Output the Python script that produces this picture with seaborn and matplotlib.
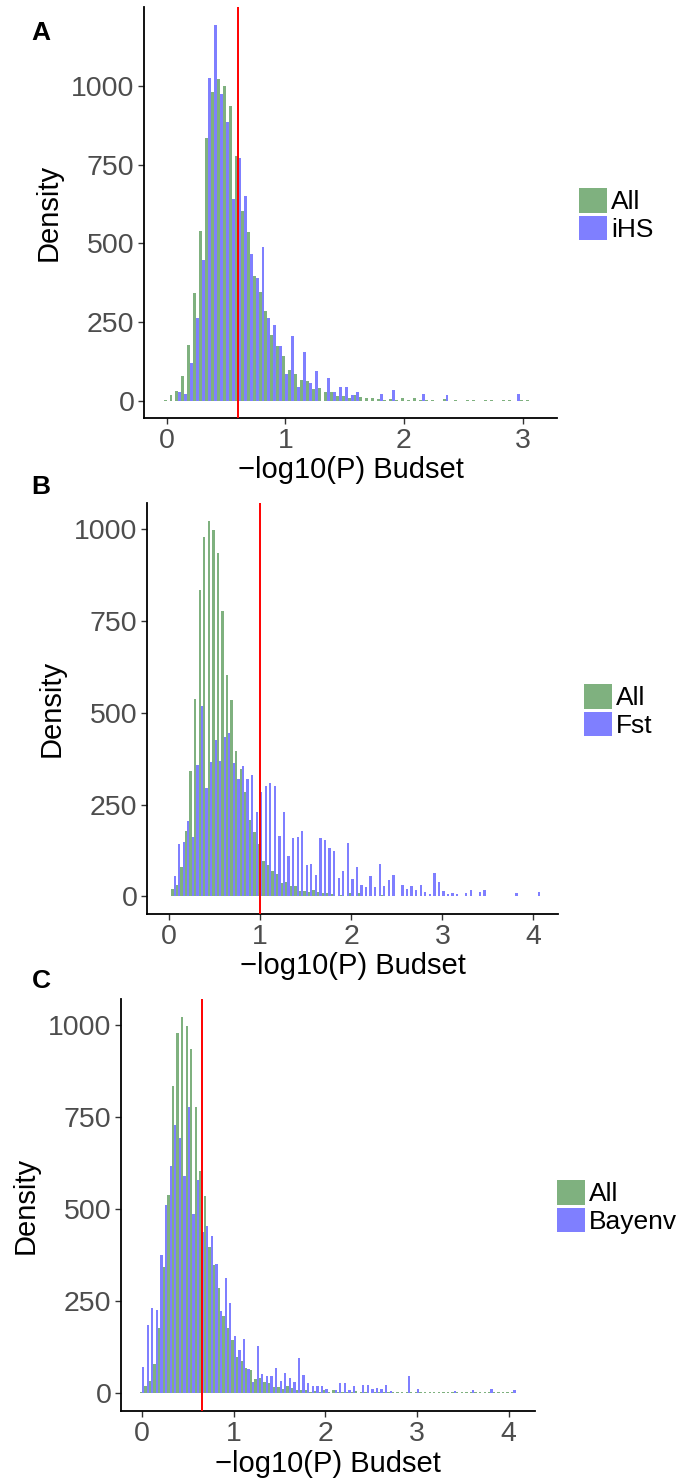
import numpy as np
import pandas as pd
import matplotlib.pyplot as plt
import seaborn as sns
from matplotlib.patches import Patch

# largura do bin (-log10 P) e densidades
bin_width = 0.05

all_density = [2, 19, 32, 79, 177, 342, 538, 834, 979, 1022,
               998, 935, 776, 604, 536, 395, 346, 285, 209, 175,
               142, 97, 86, 68, 62, 37, 40, 29, 27, 15,
               15, 11, 18, 13, 8, 8, 6, 2, 5, 2,
               8, 2, 8, 2, 2, 2, 1, 5, 1, 2,
               0, 2, 2, 1, 2, 2, 1, 2, 2, 1,
               2, 2, 1, 2, 1, 2, 2, 1, 2, 1,
               1, 2, 1, 1, 2, 1, 1, 2, 1, 1,
               1, 1]

ihs_density = [0, 0, 28, 22, 120, 263, 447, 1024, 1192, 973,
               885, 640, 771, 650, 466, 390, 488, 263, 241, 174,
               86, 206, 44, 155, 57, 95, 0, 73, 29, 44,
               44, 19, 29, 0, 0, 0, 22, 0, 35, 0,
               0, 0, 0, 22, 0, 0, 0, 19, 0, 0,
               0, 0, 0, 0, 0, 0, 0, 0, 0, 22,
               0, 0, 0]

fst_density = [0, 56, 143, 149, 206, 162, 358, 519, 296, 366,
               426, 369, 435, 445, 364, 320, 356, 320, 331, 230,
               285, 301, 309, 301, 165, 230, 111, 160, 162, 179,
               86, 89, 59, 160, 154, 132, 124, 51, 70, 146,
               48, 81, 32, 26, 56, 26, 89, 29, 45, 59,
               0, 32, 21, 29, 18, 32, 13, 7, 64, 40,
               15, 7, 10, 7, 0, 10, 18, 0, 13, 18,
               0, 0, 0, 0, 0, 0, 10, 0, 0, 0,
               0, 13]

bayenv_density = [70, 184, 230, 225, 374, 510, 616, 728, 693, 589,
                  777, 486, 578, 437, 453, 426, 350, 222, 312, 244,
                  154, 116, 146, 64, 29, 127, 51, 45, 45, 67,
                  32, 54, 40, 29, 94, 48, 26, 18, 18, 18,
                  10, 0, 7, 26, 26, 7, 18, 0, 21, 21,
                  10, 13, 10, 21, 5, 0, 0, 0, 45, 0,
                  10, 0, 0, 0, 0, 0, 0, 0, 5, 0,
                  0, 0, 7, 0, 0, 0, 10, 0, 0, 0,
                  0, 7]

cutoff_ihs = 0.6
cutoff_fst = 1.0
cutoff_bayenv = 0.65

W, H = 681, 1480

sns.set_theme(style='ticks')
plt.rcParams['font.family'] = ['Liberation Sans', 'DejaVu Sans']

fig = plt.figure(figsize=(W / 100, H / 100), dpi=100)


def px_axes(x0, y0, x1, y1):
    return fig.add_axes([x0 / W, 1 - y1 / H, (x1 - x0) / W, (y1 - y0) / H])


# (letra, nome, densidade, corte, caixa em px, xlim, ylim, xticks, posicao legenda, posicao letra)
paineis = [
    ('A', 'iHS', ihs_density, cutoff_ihs, (144, 7, 557, 418),
     (-0.19, 3.289), (-54, 1250), [0, 1, 2, 3], (579, 188), (41, 33)),
    ('B', 'Fst', fst_density, cutoff_fst, (147, 503, 558, 914),
     (-0.241, 4.269), (-48, 1071), [0, 1, 2, 3, 4], (584, 684), (41, 487)),
    ('C', 'Bayenv', bayenv_density, cutoff_bayenv, (121, 999, 535, 1411),
     (-0.229, 4.286), (-50, 1071), [0, 1, 2, 3, 4], (557, 1180), (41, 981)),
]

cor_all = '#006400'
cor_sel = '#0000FF'

for letra, nome, dens, corte, caixa, xlim, ylim, xticks, leg_pos, letra_pos in paineis:
    ax = px_axes(*caixa)
    n = len(dens)
    centros = np.arange(n) * bin_width
    inicio = -bin_width / 2
    fim = inicio + n * bin_width

    df = pd.DataFrame({
        'x': np.concatenate([centros, centros]),
        'density': list(all_density[:n]) + list(dens),
        'grupo': ['All'] * n + [nome] * n,
    })

    sns.histplot(data=df, x='x', weights='density', hue='grupo',
                 hue_order=['All', nome], palette=[cor_all, cor_sel],
                 multiple='dodge', bins=n, binrange=(inicio, fim), shrink=1,
                 alpha=0.5, linewidth=0, legend=False, ax=ax)

    ax.axvline(corte, color='red', lw=1.4, zorder=5)

    ax.set_xlim(*xlim)
    ax.set_ylim(*ylim)
    ax.set_xticks(xticks)
    ax.set_yticks([0, 250, 500, 750, 1000])
    sns.despine(ax=ax)
    for s in ['left', 'bottom']:
        ax.spines[s].set_linewidth(1.3)
        ax.spines[s].set_color('black')
    ax.tick_params(direction='out', length=4, width=1, color='#333333',
                   labelsize=20.5, labelcolor='#4D4D4D', pad=3)
    ax.set_xlabel('\u2212log10(P) Budset', fontsize=21, color='black', labelpad=2)
    ax.set_ylabel('Density', fontsize=21, color='black', labelpad=6)
    ax.grid(False)

    handles = [Patch(facecolor=cor_all, alpha=0.5, linewidth=0),
               Patch(facecolor=cor_sel, alpha=0.5, linewidth=0)]
    leg = ax.legend(handles=handles, labels=['All', nome], loc='upper left',
                    bbox_to_anchor=(leg_pos[0] / W, 1 - leg_pos[1] / H),
                    bbox_transform=fig.transFigure, frameon=False, fontsize=19,
                    handlelength=1.06, handleheight=1.06, handletextpad=0.15,
                    labelspacing=0.05, borderpad=0, borderaxespad=0)
    for t in leg.get_texts():
        t.set_color('black')

    fig.text(letra_pos[0] / W, 1 - letra_pos[1] / H, letra, fontsize=19,
             fontweight='bold', ha='center', va='center', color='black')

fig.savefig('out.png', dpi=100)
